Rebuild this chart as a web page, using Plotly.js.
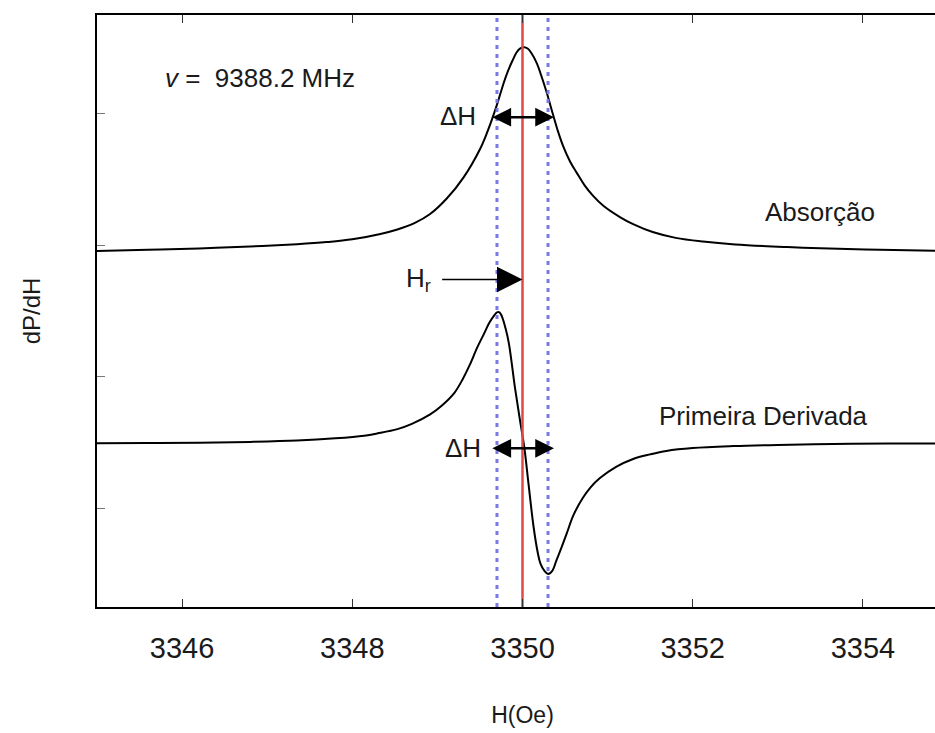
<!DOCTYPE html>
<html>
<head>
<meta charset="utf-8">
<script src="https://cdn.plot.ly/plotly-3.0.1.min.js"></script>
<style>
  html, body { margin: 0; padding: 0; overflow: hidden; background: #ffffff; }
  #chart { width: 950px; height: 733px; }
</style>
</head>
<body>
<div id="chart"></div>
<script>
// Absorption line: field (Oe) and signal (arb. units)
const absField = [3345.00, 3345.60, 3346.20, 3346.80, 3347.35, 3347.70, 3348.00, 3348.33, 3348.53,
  3348.73, 3348.91, 3349.11, 3349.31, 3349.50, 3349.58, 3349.67, 3349.72, 3349.78, 3349.83,
  3349.88, 3349.93, 3349.97, 3350.02, 3350.06, 3350.10, 3350.17, 3350.22, 3350.28, 3350.36,
  3350.42, 3350.48, 3350.56, 3350.64, 3350.73, 3350.83, 3350.95, 3351.15, 3351.30, 3351.53,
  3351.80, 3352.12, 3352.50, 3353.11, 3353.50, 3354.20, 3355.00];
const absSignal = [2.707, 2.716, 2.726, 2.740, 2.758, 2.774, 2.795, 2.836, 2.870,
  2.918, 2.985, 3.105, 3.268, 3.480, 3.600, 3.760, 3.860, 3.985, 4.075,
  4.150, 4.215, 4.245, 4.255, 4.245, 4.215, 4.131, 4.040, 3.920, 3.740,
  3.610, 3.500, 3.385, 3.298, 3.205, 3.125, 3.050, 2.962, 2.910, 2.850,
  2.806, 2.778, 2.756, 2.736, 2.727, 2.716, 2.707];

// First-derivative line: field (Oe) and signal (arb. units)
const derField = [3345.00, 3345.60, 3346.20, 3346.80, 3347.35, 3347.80, 3348.14, 3348.30, 3348.53,
  3348.70, 3348.91, 3349.05, 3349.20, 3349.30, 3349.38, 3349.47, 3349.55, 3349.61, 3349.67,
  3349.70, 3349.73, 3349.76, 3349.80, 3349.84, 3349.91, 3349.97, 3350.02, 3350.07, 3350.13,
  3350.18, 3350.21, 3350.26, 3350.30, 3350.35, 3350.40, 3350.46, 3350.52, 3350.60, 3350.71,
  3350.80, 3350.91, 3351.10, 3351.30, 3351.50, 3351.69, 3352.00, 3352.48, 3353.00, 3353.65,
  3354.30, 3355.00];
const derSignal = [1.244, 1.246, 1.249, 1.255, 1.265, 1.282, 1.302, 1.320, 1.352,
  1.392, 1.462, 1.530, 1.628, 1.735, 1.840, 1.975, 2.080, 2.160, 2.218,
  2.240, 2.240, 2.206, 2.120, 2.004, 1.674, 1.421, 1.220, 0.940, 0.610,
  0.410, 0.332, 0.272, 0.251, 0.275, 0.357, 0.455, 0.560, 0.700, 0.830,
  0.910, 0.980, 1.065, 1.125, 1.160, 1.186, 1.208, 1.223, 1.232, 1.239,
  1.242, 1.244];

// Resonance field and the two peak-to-peak markers
const resonanceField = 3350.0;
const widthMarkers = [3349.7, 3350.3];

// Linewidth arrows: [left tip, right tip] in field, with their heights
const dHTopArrow = [3349.64, 3350.37];
const dHTopLevel = 3.723;
const dHBottomArrow = [3349.64, 3350.37];
const dHBottomLevel = 1.206;
// Resonance pointer: tail field and height (tip sits on the resonance field)
const hrArrowTail = 3349.05;
const hrLevel = 2.49;

// Axes
const xRange = [3345, 3355];
const yRange = [0, 4.5];
const xTicks = [3346, 3348, 3350, 3352, 3354];
const yTicks = [0.75, 1.75, 2.75, 3.75];

// Labels
const freqLabel = '<i>v</i> =&nbsp; 9388.2 MHz';
const absLabel = 'Absorção';
const derLabel = 'Primeira Derivada';
const dHLabel = 'ΔH';
const hrLabel = 'H<sub>r</sub>';

const FONT = 'Arial, "Liberation Sans", sans-serif';
const TXT = '#1a1a1a';

function curve(x, y) {
  return { x: x, y: y, type: 'scatter', mode: 'lines', hoverinfo: 'skip',
    line: { color: '#000000', width: 2, shape: 'spline', smoothing: 1 } };
}

function vline(h, color, width, dash) {
  return { x: [h, h], y: yRange, type: 'scatter', mode: 'lines', hoverinfo: 'skip',
    line: { color: color, width: width, dash: dash } };
}

const traces = [
  curve(absField, absSignal),
  curve(derField, derSignal),
  ...widthMarkers.map(h => vline(h, '#7a78e6', 3, '4px,5px')),
  vline(resonanceField, '#e0484a', 2.5, 'solid')
];

// Double-headed arrow spanning a field interval
function doubleArrow(pair, level) {
  return {
    x: pair[1], y: level, ax: pair[0], ay: level,
    xref: 'x', yref: 'y', axref: 'x', ayref: 'y',
    text: '', showarrow: true, arrowside: 'end+start',
    arrowhead: 2, startarrowhead: 2, arrowsize: 1.5, startarrowsize: 1.5,
    arrowwidth: 2.5, arrowcolor: '#000000', standoff: 0, startstandoff: 0, borderpad: 0
  };
}

function label(text, x, y, anchor, size) {
  return { x: x, y: y, xref: 'x', yref: 'y', text: text, showarrow: false,
    xanchor: anchor, yanchor: 'middle', font: { family: FONT, size: size, color: TXT } };
}

const annotations = [
  doubleArrow(dHTopArrow, dHTopLevel),
  doubleArrow(dHBottomArrow, dHBottomLevel),
  { x: resonanceField, y: hrLevel, ax: hrArrowTail, ay: hrLevel,
    xref: 'x', yref: 'y', axref: 'x', ayref: 'y', text: '', showarrow: true,
    arrowhead: 2, arrowsize: 3.4, arrowwidth: 1.5, arrowcolor: '#000000', standoff: 0, borderpad: 0 },
  label(freqLabel, 3345.78, 4.02, 'left', 26),
  label(dHLabel, 3349.24, 3.731, 'center', 26),
  label(dHLabel, 3349.30, 1.208, 'center', 26),
  label(hrLabel, 3348.78, 2.49, 'center', 26),
  label(absLabel, 3353.50, 3.00, 'center', 26),
  label(derLabel, 3352.83, 1.451, 'center', 26)
];

const layout = {
  width: 950, height: 733,
  margin: { l: 97, r: 2, t: 15, b: 126 },
  paper_bgcolor: '#ffffff', plot_bgcolor: '#ffffff',
  showlegend: false,
  font: { family: FONT, color: TXT },
  xaxis: {
    range: xRange, tickvals: xTicks, ticktext: xTicks.map(String),
    ticks: 'inside', ticklen: 8, tickwidth: 1, tickcolor: '#333333',
    showline: true, linecolor: '#000000', linewidth: 2, mirror: 'ticks',
    showgrid: false, zeroline: false,
    tickfont: { family: FONT, size: 29, color: TXT }, ticklabelstandoff: 14,
    title: { text: 'H(Oe)', font: { family: FONT, size: 23, color: TXT }, standoff: 44 }
  },
  yaxis: {
    range: yRange, tickvals: yTicks, showticklabels: false,
    ticks: 'inside', ticklen: 8, tickwidth: 1, tickcolor: '#777777',
    showline: true, linecolor: '#000000', linewidth: 2, mirror: false,
    showgrid: false, zeroline: false,
    title: { text: 'dP/dH', font: { family: FONT, size: 24, color: TXT }, standoff: 48 }
  },
  annotations: annotations
};

Plotly.newPlot('chart', traces, layout, { staticPlot: true, displayModeBar: false });
</script>
</body>
</html>
